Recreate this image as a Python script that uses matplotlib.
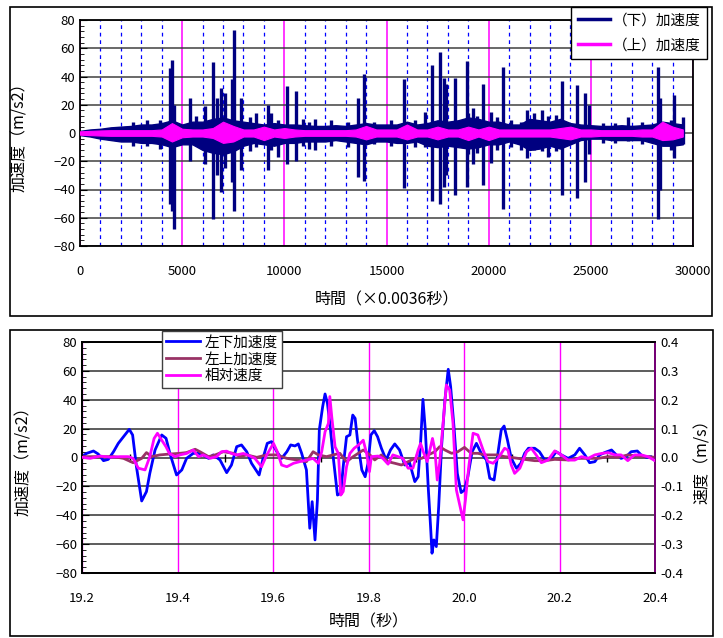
import numpy as np
import matplotlib
matplotlib.use("Agg")
import matplotlib.pyplot as plt
from matplotlib.lines import Line2D
from matplotlib.patches import Rectangle
from matplotlib.ticker import MultipleLocator, FormatStrFormatter

plt.rcParams['font.family'] = ['Noto Sans CJK JP', 'DejaVu Sans']

# ---- top chart: (下)/(上) acceleration, read as envelope + spikes ----
env_t = list(range(0, 30000, 500))
navy_hi = [1.5, 2.5, 3, 4, 4.5, 5, 6, 6, 7, 9, 6, 8, 8, 10, 11, 9, 8, 7, 6, 7,
           6, 6, 5.5, 5, 5, 5.5, 5, 6, 7, 6, 6, 6, 8, 6, 7, 9, 8, 9, 11, 10,
           8, 8, 6, 6, 10, 9, 8, 10, 7, 6, 5.5, 5, 5, 5.5, 5, 5.5, 6, 8, 7, 6]
navy_lo = [-1.5, -2.5, -4, -5, -6, -6, -7, -7, -8, -10, -8, -8, -12, -14, -15, -13, -9, -7, -8, -9,
           -7, -7, -6, -6, -6, -5, -6, -7, -8, -6, -6, -7, -7, -6, -9, -10, -9, -10, -11, -10,
           -8, -8, -6, -8, -12, -11, -9, -11, -8, -5, -4, -4, -5, -5, -5, -5, -7, -9, -9, -8]
mag_hi = [1.2, 1.5, 1.8, 2, 2, 2, 2, 2, 2.5, 7, 3, 2.5, 2.5, 3.5, 8, 5, 2.5, 2.5, 4.5, 2.5,
          3.5, 2.5, 2, 2, 2, 2, 2, 2.5, 5, 2.5, 2.5, 2.5, 6, 2.5, 2.5, 4.5, 2.5, 2.5, 4.5, 2.5,
          4.5, 2.5, 2.5, 2.5, 2.5, 2.5, 2.5, 3.5, 4.5, 2.5, 2.5, 2, 2, 2, 2, 2.5, 2.5, 8, 4.5, 2.5]
mag_lo = [-1.2, -1.5, -1.8, -2, -2, -2, -2, -2, -2.5, -6, -3, -2.5, -2.5, -3.5, -7, -6, -2.5, -2.5, -5, -2.5,
          -3.5, -2.5, -2, -2, -2, -2, -2, -2.5, -4.5, -2.5, -2.5, -2.5, -4.5, -2.5, -2.5, -4.5, -2.5, -2.5, -5, -2.5,
          -5, -2.5, -2.5, -2.5, -2.5, -2.5, -2.5, -3.5, -4.5, -2.5, -2.5, -2, -2, -2, -2, -2.5, -2.5, -5, -4.5, -2.5]

spike_t = [4400, 4500, 4600, 5400, 5700, 6100, 6500, 6700, 6900, 7100, 7450, 7550,
           7900, 8600, 9200, 9350, 10150, 10550, 11500, 13600, 13900, 15850, 16900,
           17250, 17600, 17800, 17900, 18350, 18950, 19250, 19700, 20100, 20700,
           21900, 22200, 22600, 23600, 24300, 24700, 24900, 26800, 28300, 28400,
           29050, 29500,
           # smaller bursts
           2600, 3300, 3900, 8300, 9700, 10900, 11200, 12300, 13100, 14400,
           15200, 16400, 19000, 19450, 20400, 21100, 21600, 22900, 23300, 25600,
           26200, 27500, 28900]
spike_hi = [46, 52, 20, 25, 12, 19, 50, 25, 32, 28, 38, 73,
            25, 14, 20, 14, 33, 30, 10, 25, 42, 38, 15,
            48, 57, 39, 35, 39, 51, 18, 35, 15, 47,
            16, 14, 16, 37, 34, 28, 20, 11, 47, 25,
            27, 11,
            8, 9, 9, 11, 9, 10, 8, 9, 8, 8,
            9, 9, 14, 12, 11, 9, 8, 12, 13, 7,
            7, 8, 9]
spike_lo = [-50, -55, -68, -20, -8, -22, -61, -30, -42, -25, -35, -55,
            -26, -10, -26, -12, -22, -20, -12, -31, -34, -39, -10,
            -48, -50, -38, -30, -44, -38, -22, -37, -21, -54,
            -18, -12, -13, -44, -46, -35, -15, -6, -61, -40,
            -18, -8,
            -9, -9, -11, -13, -17, -9, -11, -9, -10, -8,
            -9, -10, -15, -14, -12, -10, -12, -17, -13, -7,
            -7, -8, -12]

# ---- bottom chart ----
blue_t = [19.199, 19.210, 19.224, 19.234, 19.245, 19.255, 19.266, 19.276, 19.287, 19.299,
          19.306, 19.314, 19.325, 19.335, 19.342, 19.353, 19.367, 19.376, 19.384, 19.398,
          19.409, 19.419, 19.433, 19.444, 19.454, 19.465, 19.475, 19.489, 19.503, 19.513,
          19.524, 19.534, 19.545, 19.555, 19.571, 19.580, 19.588, 19.597, 19.608, 19.618,
          19.629, 19.637, 19.646, 19.653, 19.660, 19.670, 19.677, 19.682, 19.688, 19.693,
          19.697, 19.704, 19.709, 19.714, 19.719, 19.726, 19.735, 19.742, 19.747, 19.754,
          19.761, 19.767, 19.772, 19.777, 19.786, 19.793, 19.799, 19.805, 19.812, 19.819,
          19.827, 19.837, 19.846, 19.855, 19.865, 19.876, 19.886, 19.897, 19.904, 19.909,
          19.914, 19.919, 19.925, 19.930, 19.933, 19.937, 19.942, 19.947, 19.953, 19.960,
          19.967, 19.972, 19.979, 19.986, 19.994, 20.001, 20.008, 20.017, 20.026, 20.036,
          20.047, 20.054, 20.063, 20.070, 20.078, 20.084, 20.091, 20.099, 20.110, 20.119,
          20.127, 20.135, 20.148, 20.158, 20.169, 20.183, 20.193, 20.204, 20.218, 20.232,
          20.242, 20.253, 20.263, 20.274, 20.284, 20.296, 20.309, 20.319, 20.329, 20.340,
          20.350, 20.363, 20.371, 20.382, 20.392, 20.400]
blue_v = [0.6, 2.9, 4.5, 2.4, -2.2, -1.3, 4.0, 9.8, 14.4, 19.5,
          15.6, -6.3, -30.1, -23.6, -11.0, 5.2, 15.6, 13.3, 2.9, -12.1,
          -8.6, -0.6, 2.9, 2.9, 1.8, -0.6, 1.8, -1.7, -10.5, -5.2,
          7.5, 8.7, 4.0, -4.0, -12.1, 0.6, 9.8, 11.0, 4.0, -0.6,
          4.0, 8.7, 8.0, 9.4, 2.9, -8.6, -49.0, -30.6, -57.1, -29.4,
          19.1, 35.2, 44.0, 37.5, 23.7, 0.6, -26.0, -24.8, -6.3, 14.4,
          15.6, 29.4, 27.1, 12.1, -8.6, -13.3, -4.0, 15.6, 18.6, 14.4,
          6.4, -1.7, 5.2, 9.4, 5.2, -5.2, -3.6, -16.7, -13.3, 9.8,
          40.3, 19.1, -20.2, -47.9, -66.3, -57.1, -61.7, -34.0, 7.5, 39.8,
          61.1, 49.1, 21.4, -11.0, -24.3, -22.5, -13.3, 4.0, 9.8, 2.9,
          -1.7, -14.4, -15.6, 0.6, 19.1, 21.8, 12.1, -0.6, -7.5, -4.0,
          2.9, 6.4, 6.4, 4.0, -1.7, -0.6, 4.0, 1.8, -0.6, 1.8,
          6.4, 1.8, -3.6, -2.9, 1.8, 3.6, 5.2, 1.8, -0.6, 0.6,
          4.0, 4.5, 1.8, 0.1, 0.6, -2.2]

brown_t = [19.199, 19.238, 19.266, 19.287, 19.307, 19.325, 19.335, 19.346, 19.363, 19.384,
           19.405, 19.419, 19.437, 19.447, 19.465, 19.479, 19.496, 19.517, 19.531, 19.545,
           19.566, 19.587, 19.608, 19.629, 19.650, 19.670, 19.684, 19.695, 19.712, 19.726,
           19.740, 19.754, 19.768, 19.789, 19.803, 19.813, 19.827, 19.841, 19.855, 19.869,
           19.883, 19.897, 19.911, 19.925, 19.939, 19.949, 19.960, 19.974, 19.987, 20.001,
           20.015, 20.029, 20.043, 20.057, 20.071, 20.085, 20.099, 20.113, 20.127, 20.148,
           20.169, 20.190, 20.218, 20.239, 20.260, 20.281, 20.302, 20.323, 20.343, 20.364,
           20.385, 20.400]
brown_v = [0.6, 0.6, 0.6, -0.6, -3.6, -0.6, 3.4, 0.6, 1.8, 2.4,
           2.9, 3.4, 5.7, 4.0, 0.6, 1.8, 4.0, 2.9, 0.6, 1.8,
           0.1, 1.8, 1.8, -0.6, -1.7, -2.9, 4.0, 1.8, 0.6, 1.8,
           2.9, -2.9, 0.6, 5.2, 1.8, -1.7, 1.8, -2.9, -4.0, -5.2,
           -2.9, -0.6, -0.6, 1.8, 4.0, 7.5, 5.2, 2.9, 4.0, 7.0,
           2.9, 2.9, 1.8, 1.8, 1.8, 0.6, 0.1, -0.6, -1.3, -2.2,
           -2.2, -1.3, -1.7, -0.6, -0.6, -0.6, 0.6, 0.1, 1.8, 1.0,
           0.6, 0.1]

rel_t = [19.199, 19.217, 19.238, 19.259, 19.280, 19.297, 19.307, 19.318, 19.332, 19.342,
         19.351, 19.358, 19.367, 19.376, 19.383, 19.395, 19.405, 19.419, 19.433, 19.444,
         19.454, 19.468, 19.482, 19.492, 19.503, 19.513, 19.524, 19.538, 19.552, 19.562,
         19.576, 19.587, 19.601, 19.609, 19.618, 19.629, 19.643, 19.657, 19.670, 19.684,
         19.695, 19.702, 19.709, 19.716, 19.719, 19.723, 19.730, 19.737, 19.742, 19.747,
         19.754, 19.761, 19.770, 19.779, 19.789, 19.796, 19.802, 19.806, 19.820, 19.830,
         19.841, 19.851, 19.862, 19.872, 19.883, 19.893, 19.904, 19.909, 19.916, 19.923,
         19.934, 19.939, 19.944, 19.949, 19.958, 19.963, 19.970, 19.977, 19.984, 19.991,
         19.998, 20.003, 20.010, 20.019, 20.029, 20.040, 20.050, 20.061, 20.071, 20.078,
         20.085, 20.092, 20.099, 20.106, 20.117, 20.131, 20.141, 20.151, 20.162, 20.176,
         20.190, 20.204, 20.218, 20.232, 20.246, 20.260, 20.274, 20.288, 20.302, 20.316,
         20.329, 20.343, 20.357, 20.371, 20.385, 20.400]
rel_v = [0.001, -0.003, 0.005, 0.001, 0.003, 0.003, -0.003, -0.037, -0.043, 0.003,
         0.066, 0.084, 0.060, 0.037, 0.014, 0.003, 0.009, 0.014, 0.026, 0.003,
         0.009, -0.003, 0.003, 0.020, 0.022, 0.014, 0.009, 0.014, 0.005, -0.003,
         -0.032, 0.009, 0.049, 0.020, -0.026, -0.032, -0.020, -0.014, -0.009, -0.003,
         -0.020, 0.020, 0.089, 0.118, 0.211, 0.142, 0.037, 0.014, -0.130, -0.118,
         -0.032, 0.014, 0.032, 0.043, 0.060, 0.014, -0.049, 0.003, 0.005, -0.003,
         -0.023, 0.009, 0.003, -0.003, -0.037, -0.037, 0.026, 0.049, 0.014, -0.014,
         0.066, 0.026, -0.078, -0.020, 0.153, 0.251, 0.234, 0.118, -0.112, -0.164,
         -0.216, -0.147, -0.032, 0.084, 0.078, 0.026, -0.014, -0.020, -0.003, 0.014,
         0.032, 0.026, -0.026, -0.055, -0.037, 0.020, 0.032, 0.009, -0.018, -0.009,
         0.023, 0.009, -0.009, -0.009, 0.003, -0.003, 0.009, 0.014, 0.017, 0.009,
         0.009, -0.011, 0.009, 0.009, 0.003, -0.011]

NAVY = '#000080'
MAG = '#FF00FF'
BLUE = '#0000FF'
BROWN = '#993366'

fig = plt.figure(figsize=(7.23, 6.38), dpi=100)
W, H = 723.0, 638.0

def frac_box(x0, y0, x1, y1):
    # pixel box (top-left origin) -> figure fraction rect
    return [x0 / W, 1 - y1 / H, (x1 - x0) / W, (y1 - y0) / H]

# panel borders
for (x0, y0, x1, y1) in [(10, 7, 712, 316), (10, 330, 713, 636)]:
    r = frac_box(x0, y0, x1, y1)
    fig.add_artist(Rectangle((r[0], r[1]), r[2], r[3], transform=fig.transFigure,
                             fill=False, ec='black', lw=1.2))

# ================= top =================
ax1 = fig.add_axes(frac_box(80, 20, 693, 246))
ax1.set_xlim(0, 30000)
ax1.set_ylim(-80, 80)
ax1.xaxis.set_major_locator(MultipleLocator(5000))
ax1.xaxis.set_minor_locator(MultipleLocator(1000))
ax1.yaxis.set_major_locator(MultipleLocator(20))
ax1.yaxis.set_minor_locator(MultipleLocator(4))
ax1.grid(True, which='major', axis='y', color='#404040', lw=1.1)
ax1.grid(True, which='major', axis='x', color=MAG, lw=1.1)
ax1.grid(True, which='minor', axis='x', color=BLUE, lw=0.9, ls=(0, (3, 3)))
ax1.set_axisbelow(True)

ax1.fill_between(env_t, navy_lo, navy_hi, color=NAVY, lw=1.0, ec=NAVY, zorder=2)
ax1.vlines(spike_t, spike_lo, spike_hi, color=NAVY, lw=2.4, zorder=2)
ax1.fill_between(env_t, mag_lo, mag_hi, color=MAG, lw=0.8, ec=MAG, zorder=3)

ax1.tick_params(axis='x', which='both', length=0, labelsize=9.5, pad=14)
ax1.tick_params(axis='y', which='major', direction='in', length=5, labelsize=9.5)
ax1.tick_params(axis='y', which='minor', direction='in', length=3)
for s in ax1.spines.values():
    s.set_color('black')
    s.set_linewidth(1.3)
ax1.set_xlabel('時間（×0.0036秒）', fontsize=11.5)
ax1.xaxis.set_label_coords(0.5, -0.2)
ax1.set_ylabel('加速度（m/s2）', fontsize=11.5)
ax1.yaxis.set_label_coords(-0.085, 0.5)

h1 = [Line2D([], [], color=NAVY, lw=2.5), Line2D([], [], color=MAG, lw=2.5)]
leg1 = ax1.legend(h1, ['（下）加速度', '（上）加速度'], loc='upper right',
                  bbox_to_anchor=(707 / W, 1 - 7 / H), bbox_transform=fig.transFigure,
                  fontsize=10.5, frameon=True, fancybox=False, edgecolor='black',
                  handlelength=2.2, handletextpad=0.2, borderpad=0.45,
                  labelspacing=0.75, borderaxespad=0, framealpha=1)
leg1.get_frame().set_linewidth(1.0)
leg1.set_zorder(10)

# ================= bottom =================
ax2 = fig.add_axes(frac_box(82, 342, 655, 573))
ax2.set_xlim(19.2, 20.4)
ax2.set_ylim(-80, 80)
ax2.xaxis.set_major_locator(MultipleLocator(0.2))
ax2.xaxis.set_major_formatter(FormatStrFormatter('%.1f'))
ax2.yaxis.set_major_locator(MultipleLocator(20))
ax2.yaxis.set_minor_locator(MultipleLocator(4))
ax2.grid(True, which='major', axis='y', color='#303030', lw=1.1)
ax2.grid(True, which='major', axis='x', color=MAG, lw=1.0)
ax2.set_axisbelow(True)
# small axis ticks on the zero line
xt = [19.3, 19.5, 19.7, 19.9, 20.1, 20.3]
ax2.plot(xt, [0] * len(xt), ls='none', marker='|', ms=6, color='black', zorder=1)

ax2.plot(blue_t, blue_v, color=BLUE, lw=2, zorder=3)
ax2.plot(brown_t, brown_v, color=BROWN, lw=2, zorder=3)

ax3 = ax2.twinx()
ax3.set_ylim(-0.4, 0.4)
ax3.yaxis.set_major_locator(MultipleLocator(0.1))
ax3.yaxis.set_major_formatter(FormatStrFormatter('%.1f'))
ax3.plot(rel_t, rel_v, color=MAG, lw=2, zorder=3)

ax2.tick_params(axis='x', length=0, labelsize=9.5, pad=14)
ax2.tick_params(axis='y', which='major', direction='in', length=5, labelsize=9.5)
ax2.tick_params(axis='y', which='minor', direction='in', length=3)
ax3.tick_params(axis='y', length=0, labelsize=9.5, pad=4)
for s in ax2.spines.values():
    s.set_color('black')
    s.set_linewidth(1.3)
for s in ax3.spines.values():
    s.set_linewidth(1.3)
ax3.spines['right'].set_color('#800080')

ax2.set_xlabel('時間（秒）', fontsize=11.5)
ax2.xaxis.set_label_coords(0.5, -0.175)
ax2.set_ylabel('加速度（m/s2）', fontsize=11.5)
ax2.yaxis.set_label_coords(-0.088, 0.5)
ax3.set_ylabel('速度（m/s）', fontsize=11.5)
ax3.yaxis.set_label_coords(1.068, 0.5)

h2 = [Line2D([], [], color=BLUE, lw=2), Line2D([], [], color=BROWN, lw=2),
      Line2D([], [], color=MAG, lw=2)]
leg2 = ax3.legend(h2, ['左下加速度', '左上加速度', '相対速度'], loc='upper left',
                  bbox_to_anchor=(162 / W, 1 - 331 / H), bbox_transform=fig.transFigure,
                  fontsize=10.5, frameon=True, fancybox=False, edgecolor='#404040',
                  handlelength=2.3, handletextpad=0.3, borderpad=0.3,
                  labelspacing=0.2, borderaxespad=0, framealpha=1)
leg2.get_frame().set_linewidth(1.0)
leg2.set_zorder(10)

fig.savefig('out.png', dpi=100)
